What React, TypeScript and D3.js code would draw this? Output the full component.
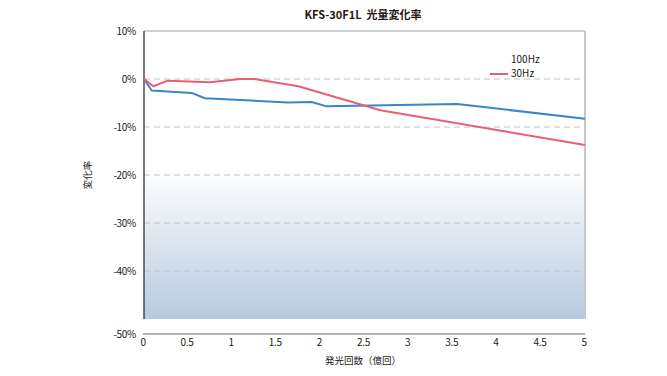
import React from "react";
import * as d3 from "d3";

const title = "KFS-30F1L\u00a0\u00a0光量変化率";
const xLabel = "発光回数（億回）";
const yLabel = "変化率";
const xTicks = [0, 0.5, 1, 1.5, 2, 2.5, 3, 3.5, 4, 4.5, 5];
const xTickLabels = ["0", "0.5", "1", "1.5", "2", "2.5", "3", "3.5", "4", "4.5", "5"];
const yTicks = [10, 0, -10, -20, -30, -40, -50];
const yTickLabels = ["10%", "0%", "-10%", "-20%", "-30%", "-40%", "-50%"];
const gridValues = [0, -10, -20, -30, -40];

const hz100X = [0, 0.087, 0.54, 0.69, 1.63, 1.9, 2.07, 3.55, 5];
const hz100Y = [0, -2.4, -2.9, -4.0, -4.9, -4.8, -5.7, -5.2, -8.3];
const hz30X = [0, 0.105, 0.27, 0.75, 1.09, 1.25, 1.75, 2.68, 5];
const hz30Y = [0, -1.5, -0.35, -0.7, 0, 0, -1.5, -6.5, -13.75];

const seriesNames = ["100Hz", "30Hz"];
const blue = "#3a86c8";
const red = "#e8606f";

export default function App() {
  const W = 667, H = 376;
  const x = d3.scaleLinear().domain([0, 5]).range([144, 585]);
  const y = d3.scaleLinear().domain([-50, 10]).range([319, 31]);
  const left = x(0), right = x(5), top = y(10), bottom = y(-50);
  const axisY = bottom + 15;
  const line = d3.line<[number, number]>().x(d => x(d[0])).y(d => y(d[1]));
  const blueData: [number, number][] = hz100X.map((v, i) => [v, hz100Y[i]]);
  const redData: [number, number][] = hz30X.map((v, i) => [v, hz30Y[i]]);
  const font = "'Noto Sans CJK JP', 'Noto Sans', sans-serif";
  const txt = "#231815";
  return (
    <svg width={W} height={H} style={{ position: "absolute", left: 0, top: 0 }} fontFamily={font}>
      <defs>
        <linearGradient id="bg" x1="0" y1="0" x2="0" y2="1">
          <stop offset="0" stopColor="#ffffff" />
          <stop offset="0.48" stopColor="#ffffff" />
          <stop offset="1" stopColor="#b5cadf" />
        </linearGradient>
      </defs>
      <rect x={0} y={0} width={W} height={H} fill="#fff" />
      <rect x={left} y={top} width={right - left} height={bottom - top} fill="url(#bg)" />
      {gridValues.map(v => (
        <line key={v} x1={left} x2={right} y1={y(v)} y2={y(v)} stroke="#c2c2c2" strokeWidth={1} strokeDasharray="6,4" />
      ))}
      <line x1={left} x2={right} y1={top} y2={top} stroke="#a0a0a0" strokeWidth={1.2} />
      <line x1={right} x2={right} y1={top} y2={bottom} stroke="#c8c8c8" strokeWidth={2} />
      <line x1={left} x2={left} y1={top} y2={bottom} stroke="#333" strokeWidth={1.3} />
      <line x1={left - 1} x2={right} y1={axisY} y2={axisY} stroke="#9a9a9a" strokeWidth={1.5} />
      <path d={line(blueData) || ""} fill="none" stroke={blue} strokeWidth={2} strokeLinejoin="round" />
      <path d={line(redData) || ""} fill="none" stroke={red} strokeWidth={2} strokeLinejoin="round" />
      {yTicks.map((v, i) => (
        <text key={v} x={136} y={(v === -50 ? axisY : y(v)) + 1} textAnchor="end" dominantBaseline="middle" fontSize={10} fill={txt} letterSpacing={-0.3}>
          {yTickLabels[i]}
        </text>
      ))}
      {xTicks.map((v, i) => (
        <text key={v} x={x(v) - 1} y={axisY + 9} textAnchor="middle" dominantBaseline="middle" fontSize={10} fill={txt} letterSpacing={-0.3}>
          {xTickLabels[i]}
        </text>
      ))}
      <text x={363} y={16} textAnchor="middle" dominantBaseline="middle" fontSize={11} fontWeight="bold" fill={txt}>{title}</text>
      <text x={363} y={361} textAnchor="middle" dominantBaseline="middle" fontSize={9.5} fill={txt}>{xLabel}</text>
      <text transform="translate(88,175) rotate(-90)" textAnchor="middle" dominantBaseline="middle" fontSize={9.5} fill={txt}>{yLabel}</text>
      <text x={511} y={60} dominantBaseline="middle" fontSize={10} fill={txt}>{seriesNames[0]}</text>
      <line x1={490} x2={508} y1={74} y2={74} stroke={red} strokeWidth={2} />
      <text x={511} y={74} dominantBaseline="middle" fontSize={10} fill={txt}>{seriesNames[1]}</text>
    </svg>
  );
}
